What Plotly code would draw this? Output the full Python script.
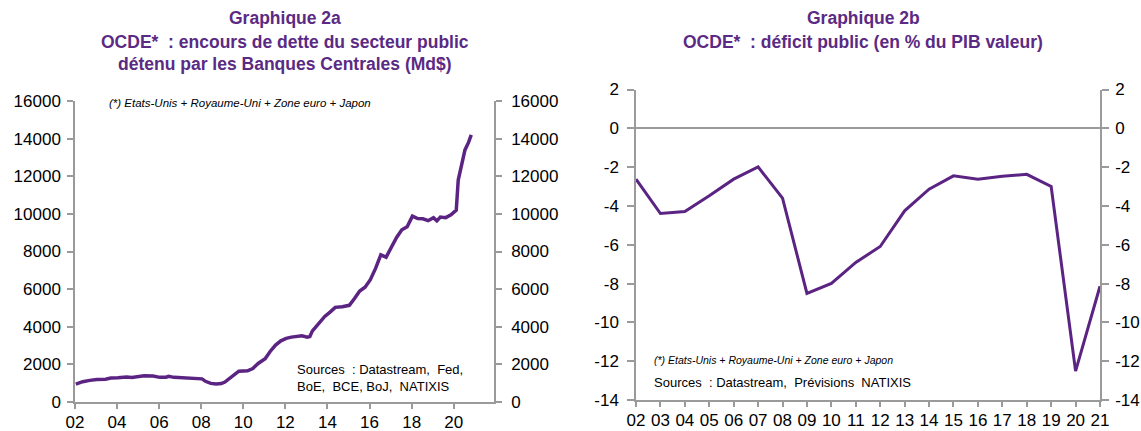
import plotly.graph_objects as go

# ---------------- data ----------------
# Graphique 2a : encours de dette publique détenu par les banques centrales (Md$)
debt_dates = [
    "2002-01-15", "2002-05-15", "2002-09-15", "2003-01-15", "2003-06-15", "2003-09-15",
    "2004-01-15", "2004-06-15", "2004-09-15", "2005-01-15", "2005-04-15", "2005-09-15",
    "2006-01-15", "2006-05-01", "2006-06-15", "2006-09-15", "2007-01-15", "2007-06-15",
    "2007-09-15", "2007-11-15", "2008-01-15", "2008-03-15", "2008-06-15", "2008-09-15",
    "2008-12-15", "2009-02-15", "2009-04-15", "2009-07-15", "2009-10-15", "2010-03-15",
    "2010-06-15", "2010-09-15", "2011-01-15", "2011-04-15", "2011-07-15", "2011-10-15",
    "2012-01-15", "2012-04-15", "2012-08-15", "2012-10-15", "2013-01-15", "2013-03-01",
    "2013-04-15", "2013-08-15", "2013-11-15", "2014-02-15", "2014-05-15", "2014-09-15",
    "2015-01-15", "2015-04-15", "2015-07-15", "2015-10-15", "2016-01-15", "2016-04-15",
    "2016-07-15", "2016-10-15", "2017-01-15", "2017-04-15", "2017-07-15", "2017-10-15",
    "2018-01-15", "2018-04-15", "2018-07-15", "2018-10-15", "2019-01-15", "2019-03-15",
    "2019-05-15", "2019-08-15", "2019-11-15", "2020-01-15", "2020-02-15", "2020-03-20",
    "2020-05-15", "2020-07-15", "2020-09-15", "2020-11-01",
]
debt_values = [
    950, 1080, 1150, 1200, 1210, 1270,
    1290, 1330, 1300, 1370, 1400, 1380,
    1310, 1320, 1370, 1310, 1300, 1260,
    1280, 1240, 1230, 1100, 990, 960,
    980, 1060, 1200, 1450, 1640, 1660,
    1780, 2050, 2300, 2700, 3030, 3250,
    3380, 3450, 3480, 3520, 3450, 3480,
    3780, 4200, 4550, 4780, 5030, 5060,
    5140, 5500, 5900, 6100, 6500, 7100,
    7820, 7700, 8200, 8750, 9150, 9320,
    9880, 9750, 9740, 9640, 9800, 9630,
    9830, 9800, 9950, 10100, 10200, 11800,
    12500, 13400, 13800, 14200,
]
debt_ticks = [0, 2000, 4000, 6000, 8000, 10000, 12000, 14000, 16000]
debt_ticktext = [str(v) for v in debt_ticks]

# Graphique 2b : déficit public (en % du PIB valeur)
deficit_years = list(range(2002, 2022))
deficit_values = [-2.62, -4.39, -4.29, -3.48, -2.62, -1.99, -3.60, -8.51, -7.99, -6.91,
                  -6.09, -4.25, -3.14, -2.45, -2.62, -2.47, -2.37, -3.00, -12.51, -8.14]
deficit_tickvals = [2, 0, -2, -4, -6, -8, -10, -12, -14]
deficit_ticktext = ["2", "0", "-2", "-4", "-6", "-8", "-10", "-12", "-14"]
year_labels = [f"{y % 100:02d}" for y in deficit_years]

# ---------------- style ----------------
PURPLE = "#5b2483"
TITLE_PURPLE = "#5a2a84"
AXIS_GREY = "#9a9a9a"
FONT = "Liberation Sans, Arial, sans-serif"
W, H = 1141, 431

fig = go.Figure()
fig.add_trace(go.Scatter(x=debt_dates, y=debt_values, mode="lines",
                         line=dict(color=PURPLE, width=3.5), xaxis="x", yaxis="y",
                         showlegend=False))
# same series on the mirrored right axis (transparent) so that axis is drawn
fig.add_trace(go.Scatter(x=debt_dates, y=debt_values, mode="lines", opacity=0,
                         line=dict(color=PURPLE, width=0.1), xaxis="x", yaxis="y2",
                         showlegend=False, hoverinfo="skip"))
fig.add_trace(go.Scatter(x=deficit_years, y=deficit_values, mode="lines",
                         line=dict(color=PURPLE, width=3), xaxis="x2", yaxis="y3",
                         showlegend=False))
fig.add_trace(go.Scatter(x=deficit_years, y=deficit_values, mode="lines", opacity=0,
                         line=dict(color=PURPLE, width=0.1), xaxis="x2", yaxis="y4",
                         showlegend=False, hoverinfo="skip"))

tickfont = dict(family=FONT, size=17, color="#000000")


def axis(**kw):
    base = dict(showgrid=False, zeroline=False, showline=True, linecolor=AXIS_GREY,
                linewidth=1.5, ticks="outside", ticklen=6, tickcolor=AXIS_GREY,
                tickwidth=1.5, tickfont=tickfont, automargin=False, fixedrange=True)
    base.update(kw)
    return base


xd1 = [75 / W, 494 / W]
xd2 = [636 / W, 1100 / W]
yd1 = [1 - 402 / H, 1 - 101 / H]
yd2 = [1 - 400 / H, 1 - 89.5 / H]

fig.update_layout(
    width=W, height=H, template="none",
    margin=dict(l=0, r=0, t=0, b=0),
    paper_bgcolor="white", plot_bgcolor="white",
    font=dict(family=FONT),
    xaxis=axis(domain=xd1, anchor="y", type="date",
               range=["2002-01-01", "2021-12-01"], tick0="2002-01-01", dtick="M24",
               tickformat="%y", ticklen=5, ticklabelstandoff=-1),
    yaxis=axis(domain=yd1, anchor="x", range=[0, 16000], tickvals=debt_ticks,
               ticktext=debt_ticktext, side="left", ticklabelstandoff=3),
    yaxis2=axis(domain=yd1, anchor="x", overlaying="y", side="right",
                range=[0, 16000], tickvals=debt_ticks, ticktext=debt_ticktext,
                ticklabelstandoff=6),
    xaxis2=axis(domain=xd2, anchor="y3", range=[2002, 2021],
                tickvals=deficit_years, ticktext=year_labels, ticklen=5,
                ticklabelstandoff=-1),
    yaxis3=axis(domain=yd2, anchor="x2", range=[-14, 2], tickvals=deficit_tickvals,
                ticktext=deficit_ticktext, side="left", ticklen=7, ticklabelstandoff=5,
                zeroline=True, zerolinecolor=AXIS_GREY, zerolinewidth=1.5),
    yaxis4=axis(domain=yd2, anchor="x2", overlaying="y3", side="right",
                range=[-14, 2], tickvals=deficit_tickvals, ticktext=deficit_ticktext,
                ticklen=7, ticklabelstandoff=3),
)

title_font = dict(family=FONT, size=17.5, color=TITLE_PURPLE)
cx1 = (xd1[0] + xd1[1]) / 2
cx2 = (xd2[0] + xd2[1]) / 2
annotations = [
    dict(text="<b>Graphique 2a</b>", x=cx1, y=1 - 18 / H),
    dict(text="<b>OCDE*  : encours de dette du secteur public</b>", x=cx1, y=1 - 42 / H),
    dict(text="<b>détenu par les Banques Centrales (Md$)</b>", x=cx1, y=1 - 64 / H),
    dict(text="<b>Graphique 2b</b>", x=cx2 - 5 / W, y=1 - 18 / H),
    dict(text="<b>OCDE*  : déficit public (en % du PIB valeur)</b>", x=cx2 - 5 / W,
         y=1 - 42 / H),
]
for a in annotations:
    fig.add_annotation(xref="paper", yref="paper", xanchor="center", yanchor="middle",
                       showarrow=False, font=title_font, **a)

note_font = dict(family=FONT, size=11.5, color="#000000")
src_font = dict(family=FONT, size=13, color="#000000")
fig.add_annotation(xref="paper", yref="paper", x=107 / W, y=1 - 103 / H, xanchor="left",
                   yanchor="middle", showarrow=False, font=note_font,
                   text="<i>(*) Etats-Unis + Royaume-Uni + Zone euro + Japon</i>")
fig.add_annotation(xref="paper", yref="paper", x=295 / W, y=1 - 378 / H, xanchor="left",
                   yanchor="middle", showarrow=False, font=src_font, align="left",
                   text="Sources  : Datastream,  Fed,<br>BoE,  BCE, BoJ,  NATIXIS")
fig.add_annotation(xref="paper", yref="paper", x=652 / W, y=1 - 360 / H, xanchor="left",
                   yanchor="middle", showarrow=False,
                   font=dict(family=FONT, size=10.5, color="#000000"),
                   text="<i>(*) Etats-Unis + Royaume-Uni + Zone euro + Japon</i>")
fig.add_annotation(xref="paper", yref="paper", x=652 / W, y=1 - 382 / H, xanchor="left",
                   yanchor="middle", showarrow=False,
                   font=dict(family=FONT, size=13, color="#000000"),
                   text="Sources  : Datastream,  Prévisions  NATIXIS")

fig.write_html("out.html", config={"displayModeBar": False},
               post_script="document.body.style.margin='0px';"
                           "document.body.style.overflow='hidden';")
